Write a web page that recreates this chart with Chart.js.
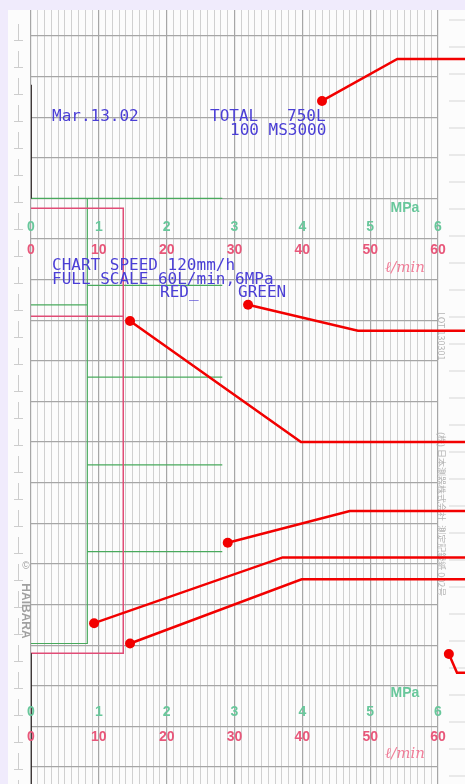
<!DOCTYPE html>
<html>
<head>
<meta charset="UTF-8" />
<script src="https://cdn.jsdelivr.net/npm/chart.js"></script>
<style>
  body, html { margin: 0; padding: 0; background: #f0ebfc; }
  #wrap { width: 465px; height: 784px; }
</style>
</head>
<body>
<div id="wrap"><canvas id="rec"></canvas></div>
<script>
// paper runs downward, time in minutes (120 mm/h, 5 min per heavy line)
const flowTime = [21.2, 21.2, 34.5, 34.5, 34.5, 76.0, 76.0];
const flowRate = [0, 13.6, 13.6, 0, 13.6, 13.6, 0];           // l/min, red pen
const pressTime = [20.0, 20.0, 20.0, 30.7, 30.7, 30.7, 33.1, 33.1, 33.1, 42.0, 42.0, 42.0,
                   52.8, 52.8, 52.8, 63.5, 63.5, 63.5, 74.8, 74.8];
const pressValue = [0, 2.82, 0.83, 0.83, 2.82, 0.83, 0.83, 0, 0.83, 0.83, 2.82, 0.83,
                    0.83, 2.82, 0.83, 0.83, 2.82, 0.83, 0.83, 0];  // MPa, green pen
const zeroTime = [6.0, 20.0, null, 76.0, 92.1];                // both pens resting on 0
const flowTicks = [0, 10, 20, 30, 40, 50, 60];
const pressTicks = [0, 1, 2, 3, 4, 5, 6];

// red callouts: dot [l/min, min] and bend [l/min, min]
const calloutDot = [[42.9, 8.0], [32.0, 33.1], [14.6, 35.1], [29.0, 62.4], [9.3, 72.3], [14.6, 74.8], [61.6, 76.1]];
const calloutBend = [[54.0, 2.83], [48.2, 36.3], [39.8, 50.0], [47.0, 58.5], [37.1, 64.2], [39.9, 66.9], [62.8, 78.4]];

const paper = {
  id: 'paper',
  beforeDraw(chart) {
    const c = chart.ctx;
    c.save();
    c.fillStyle = '#f0ebfc';
    c.fillRect(0, 0, chart.width, chart.height);
    c.fillStyle = '#fcfcfc';
    c.fillRect(8, 10, chart.width - 8, chart.height - 10);
    c.strokeStyle = '#cdcdcd';
    c.lineWidth = 1;
    for (let y = 40; y < chart.height + 20; y += 27) {
      c.beginPath(); c.moveTo(18.5, y - 16); c.lineTo(18.5, y); c.stroke();
      c.beginPath(); c.moveTo(14, y + 0.5); c.lineTo(23, y + 0.5); c.stroke();
    }
    c.strokeStyle = '#d6d6d6';
    for (let y = 20; y < chart.height; y += 27) {
      c.beginPath(); c.moveTo(449, y); c.lineTo(465, y); c.stroke();
    }
    c.restore();
  }
};

const labels = {
  id: 'labels',
  afterDatasetsDraw(chart) {
    const c = chart.ctx;
    const x = chart.scales.x, xp = chart.scales.xp;
    c.save();
    // printed scale, twice on the roll
    [[208, 227, 250, 268], [693, 712, 737, 754]].forEach(([mpaY, gY, rY, lY]) => {
      c.textAlign = 'center';
      c.textBaseline = 'middle';
      c.font = 'bold 14px "Liberation Sans"';
      c.fillStyle = '#68c79b';
      pressTicks.forEach(v => c.fillText(String(v), xp.getPixelForValue(v), gY));
      c.fillText('MPa', 405, mpaY);
      c.fillStyle = '#e8577a';
      flowTicks.forEach(v => c.fillText(String(v), x.getPixelForValue(v), rY));
      c.font = 'italic 15px "DejaVu Serif"';
      c.fillStyle = '#f07d98';
      c.fillText('ℓ/min', 405, lY);
    });
    // recorder printout
    c.textAlign = 'left';
    c.font = '16px "DejaVu Sans Mono"';
    c.fillStyle = '#4a3ed6';
    c.fillText('Mar.13.02', 52, 117);
    c.fillText('TOTAL   750L', 210, 117);
    c.fillText('100 MS3000', 230, 131);
    c.fillText('CHART SPEED 120mm/h', 52, 266);
    c.fillText('FULL SCALE 60L/min,6MPa', 52, 280);
    c.fillText('RED_', 160, 293);
    c.fillText('GREEN', 238, 293);
    // maker marks along the edges
    c.fillStyle = '#a0a0a0';
    c.font = 'bold 12px "Liberation Sans"';
    c.textAlign = 'center';
    c.save(); c.translate(25, 611); c.rotate(Math.PI / 2); c.fillText('HAIBARA', 0, 0); c.restore();
    c.font = '10px "Liberation Sans"';
    c.fillText('©', 26, 566);
    c.fillStyle = '#b4b4b4';
    c.font = '9px "Noto Sans CJK JP"';
    c.textAlign = 'left';
    c.save(); c.translate(441, 312); c.rotate(Math.PI / 2); c.fillText('LOT 130301', 0, 0); c.restore();
    c.save(); c.translate(441, 432); c.rotate(Math.PI / 2); c.fillText('(株) 日本測器株式会社  測定記録紙 002号', 0, 0); c.restore();
    c.restore();
  }
};

const callouts = {
  id: 'callouts',
  afterDraw(chart) {
    const c = chart.ctx;
    const x = chart.scales.x, y = chart.scales.y;
    c.save();
    c.strokeStyle = '#f20000';
    c.fillStyle = '#f20000';
    c.lineWidth = 2.5;
    calloutDot.forEach((d, i) => {
      const b = calloutBend[i];
      const bx = x.getPixelForValue(b[0]), by = y.getPixelForValue(b[1]);
      c.beginPath();
      c.moveTo(x.getPixelForValue(d[0]), y.getPixelForValue(d[1]));
      c.lineTo(bx, by);
      c.lineTo(chart.width, by);
      c.stroke();
      c.beginPath();
      c.arc(x.getPixelForValue(d[0]), y.getPixelForValue(d[1]), 5, 0, Math.PI * 2);
      c.fill();
    });
    c.restore();
  }
};

new Chart(document.getElementById('rec'), {
  type: 'scatter',
  data: {
    datasets: [
      {
        label: 'zero',
        xAxisID: 'x',
        data: zeroTime.map(t => ({ x: t === null ? null : 0, y: t })),
        showLine: true, spanGaps: false,
        borderColor: '#2e2525', borderWidth: 1.8, pointRadius: 0
      },
      {
        label: 'RED',
        xAxisID: 'x',
        data: flowTime.map((t, i) => ({ x: flowRate[i], y: t })),
        showLine: true,
        borderColor: '#e04c76', borderWidth: 1.5, pointRadius: 0
      },
      {
        label: 'GREEN',
        xAxisID: 'xp',
        data: pressTime.map((t, i) => ({ x: pressValue[i], y: t })),
        showLine: true,
        borderColor: '#48a95c', borderWidth: 1.2, pointRadius: 0
      }
    ]
  },
  options: {
    responsive: true,
    maintainAspectRatio: false,
    animation: false,
    layout: { padding: { left: 31, right: 27, top: 10, bottom: 0 } },
    plugins: { legend: { display: false }, tooltip: { enabled: false } },
    scales: {
      x: {
        type: 'linear', position: 'bottom', min: 0, max: 60,
        ticks: { display: false, stepSize: 1, maxTicksLimit: 100, autoSkip: false },
        grid: {
          drawTicks: false,
          color: ctx => ctx.tick.value % 10 === 0 ? '#a6a6a6' : '#d0d0d0',
          lineWidth: ctx => ctx.tick.value % 10 === 0 ? 1.2 : 1
        },
        border: { display: false }
      },
      xp: {
        type: 'linear', position: 'bottom', min: 0, max: 6, display: false
      },
      y: {
        type: 'linear', reverse: true, min: -3.2, max: 92.1,
        ticks: { display: false, stepSize: 5, includeBounds: false },
        grid: { drawTicks: false, color: '#a6a6a6', lineWidth: 1.2 },
        border: { display: false }
      }
    }
  },
  plugins: [paper, labels, callouts]
});
</script>
</body>
</html>
